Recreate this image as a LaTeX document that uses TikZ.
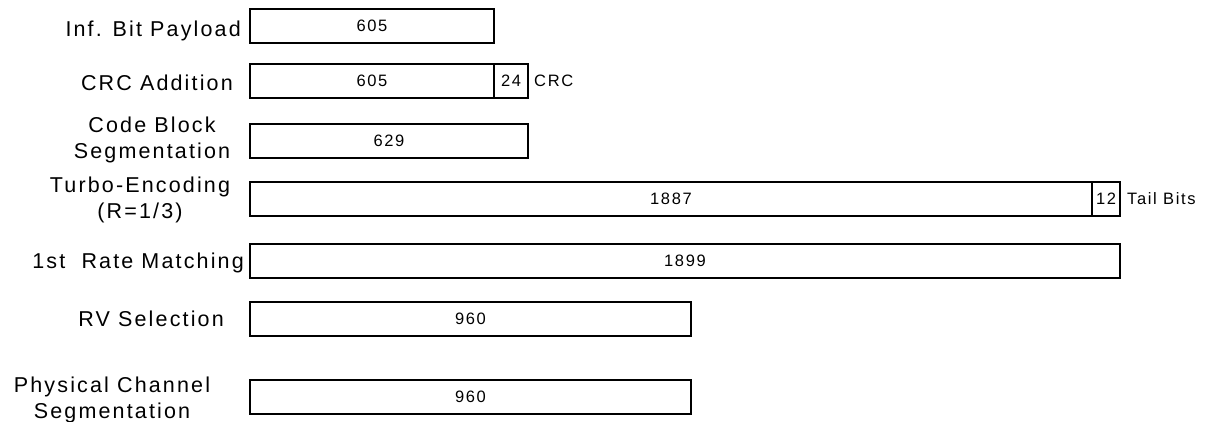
\documentclass[tikz,border=0pt]{standalone}
\usepackage{fontspec}
\setmainfont{Liberation Sans}
\newfontfamily\stagefont[LetterSpace=10]{Liberation Sans}
\usetikzlibrary{positioning}

\begin{document}
\begin{tikzpicture}[x=1pt, y=-1pt,
    bitbox/.style={draw, line width=1.2pt, anchor=north west, inner sep=0pt,
        outer sep=0pt, minimum height=34pt,
        font=\stagefont\fontsize{16.5}{18}\selectfont},
    tailbox/.style={bitbox, anchor=west},
    note/.style={inner sep=0pt, font=\stagefont\fontsize{16.5}{18}\selectfont},
    stage/.style={align=center, inner sep=0pt,
        font=\stagefont\fontsize{21.5}{26}\selectfont}]
    \useasboundingbox (0,0) rectangle (1211,421);

    % Stage names (two-line names sit on the baseline of their last line)
    \node[stage, anchor=base east] (lpay) at (241,36) {Inf. Bit Payload};
    \node[stage, anchor=base east] (lcrc) at (233,90) {CRC Addition};
    \node[stage, anchor=base] (lcbs) at (152,158) {Code Block\\Segmentation};
    \node[stage, anchor=base] (lturbo) at (140,218) {Turbo-Encoding\\(R=1/3)};
    \node[stage, anchor=base east] (lrm) at (244,268) {1st\ \ Rate Matching};
    \node[stage, anchor=base east] (lrv) at (224,326) {RV Selection};
    \node[stage, anchor=base] (lpcs) at (112,418) {Physical Channel\\Segmentation};

    % Bit blocks
    \node[bitbox, minimum width=244pt] (pay) at (250,9) {605};

    \node[bitbox, minimum width=244pt] (crcdata) at (250,64) {605};
    \node[tailbox, minimum width=34pt, right=0pt of crcdata] (crcbits) {24};
    \node[note, anchor=west, right=6pt of crcbits] (crcname) {CRC};

    \node[bitbox, minimum width=278pt] (cbs) at (250,124) {629};

    \node[bitbox, minimum width=842pt] (turbo) at (250,182) {1887};
    \node[tailbox, minimum width=28pt, right=0pt of turbo] (tail) {12};
    \node[note, anchor=west, right=7pt of tail] (tailname) {Tail Bits};

    \node[bitbox, minimum width=870pt] (rm) at (250,244) {1899};

    \node[bitbox, minimum width=441pt] (rv) at (250,302) {960};

    \node[bitbox, minimum width=441pt] (pcs) at (250,380) {960};
\end{tikzpicture}
\end{document}
